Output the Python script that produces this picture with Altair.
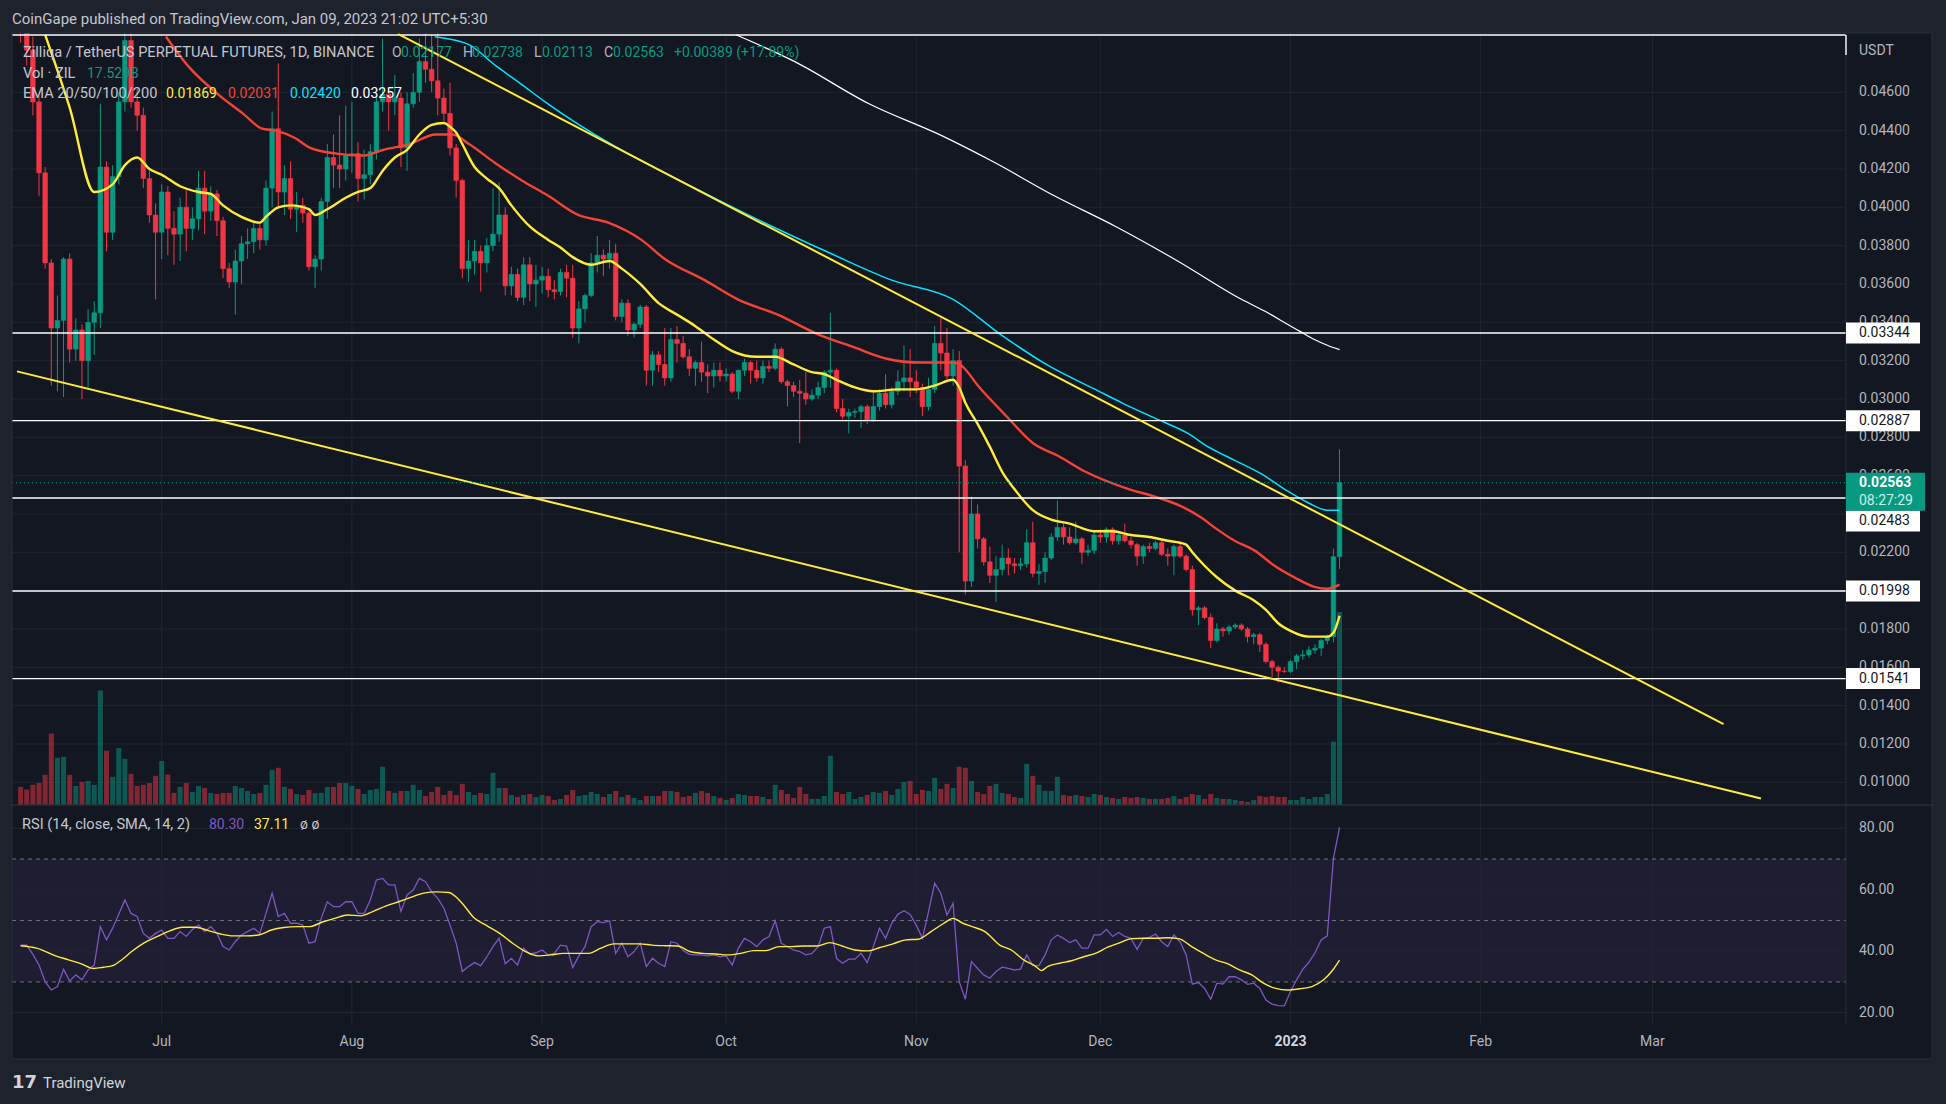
import altair as alt
import numpy as np
import pandas as pd

FIRST_DAY = "2022-06-08"

# ---------------- daily candles (ZIL/USDT perpetual, 1D) ----------------
jun_o = [0.0505,0.0492,0.0482,0.0455,0.0418,0.0371,0.0337,0.0341,0.0373,0.0326,0.0336,0.0320,0.0340,0.0345,0.0421,0.0387,0.0416,0.0455,0.0487,0.0455,0.0448,0.0415,0.0396]
jun_h = [0.0512,0.0499,0.0489,0.0458,0.0421,0.0373,0.0354,0.0374,0.0376,0.0342,0.0339,0.0347,0.0351,0.0454,0.0424,0.0422,0.0460,0.0495,0.0496,0.0462,0.0452,0.0419,0.0402]
jun_l = [0.0486,0.0474,0.0448,0.0406,0.0368,0.0307,0.0304,0.0301,0.0319,0.0320,0.0300,0.0306,0.0323,0.0337,0.0377,0.0383,0.0412,0.0450,0.0452,0.0440,0.0410,0.0392,0.0352]
jun_c = [0.0492,0.0482,0.0455,0.0418,0.0371,0.0337,0.0341,0.0373,0.0326,0.0336,0.0320,0.0340,0.0345,0.0421,0.0387,0.0416,0.0455,0.0487,0.0455,0.0448,0.0415,0.0396,0.0387]

jul_o = [0.0387,0.0408,0.0389,0.0386,0.0400,0.0389,0.0394,0.0410,0.0398,0.0407,0.0393,0.0368,0.0361,0.0372,0.0381,0.0382,0.0389,0.0383,0.0410,0.0441,0.0408,0.0415,0.0399,0.0401,0.0397,0.0369,0.0373,0.0403,0.0426,0.0422,0.0420]
jul_h = [0.0412,0.0411,0.0398,0.0405,0.0410,0.0400,0.0419,0.0419,0.0411,0.0409,0.0395,0.0371,0.0378,0.0385,0.0389,0.0393,0.0392,0.0414,0.0450,0.0475,0.0422,0.0424,0.0408,0.0405,0.0399,0.0375,0.0405,0.0433,0.0438,0.0448,0.0453]
jul_l = [0.0373,0.0375,0.0370,0.0372,0.0377,0.0383,0.0388,0.0386,0.0393,0.0385,0.0363,0.0358,0.0344,0.0360,0.0373,0.0376,0.0378,0.0380,0.0400,0.0399,0.0396,0.0394,0.0387,0.0392,0.0367,0.0358,0.0367,0.0394,0.0410,0.0410,0.0414]
jul_c = [0.0408,0.0389,0.0386,0.0400,0.0389,0.0394,0.0410,0.0398,0.0407,0.0393,0.0368,0.0361,0.0372,0.0381,0.0382,0.0389,0.0383,0.0410,0.0441,0.0408,0.0415,0.0399,0.0401,0.0397,0.0369,0.0373,0.0403,0.0426,0.0422,0.0420,0.0427]

aug_o = [0.0427,0.0428,0.0415,0.0417,0.0429,0.0455,0.0459,0.0455,0.0457,0.0431,0.0454,0.0460,0.0476,0.0472,0.0466,0.0457,0.0449,0.0431,0.0414,0.0368,0.0372,0.0377,0.0371,0.0380,0.0386,0.0396,0.0359,0.0365,0.0353,0.0370,0.0360]
aug_h = [0.0455,0.0434,0.0430,0.0433,0.0458,0.0488,0.0462,0.0469,0.0460,0.0460,0.0470,0.0488,0.0492,0.0490,0.0492,0.0462,0.0465,0.0433,0.0415,0.0383,0.0383,0.0380,0.0384,0.0410,0.0413,0.0400,0.0369,0.0368,0.0374,0.0374,0.0370]
aug_l = [0.0418,0.0403,0.0404,0.0412,0.0425,0.0450,0.0440,0.0448,0.0421,0.0419,0.0452,0.0455,0.0465,0.0460,0.0448,0.0445,0.0427,0.0405,0.0363,0.0361,0.0365,0.0356,0.0366,0.0377,0.0382,0.0354,0.0354,0.0351,0.0349,0.0351,0.0348]
aug_c = [0.0428,0.0415,0.0417,0.0429,0.0455,0.0459,0.0455,0.0457,0.0431,0.0454,0.0460,0.0476,0.0472,0.0466,0.0457,0.0449,0.0431,0.0414,0.0368,0.0372,0.0377,0.0371,0.0380,0.0386,0.0396,0.0359,0.0365,0.0353,0.0370,0.0360,0.0362]

sep_o = [0.0362,0.0364,0.0357,0.0356,0.0366,0.0363,0.0337,0.0347,0.0354,0.0371,0.0375,0.0373,0.0376,0.0343,0.0350,0.0336,0.0339,0.0348,0.0315,0.0323,0.0318,0.0311,0.0331,0.0329,0.0322,0.0316,0.0319,0.0314,0.0312,0.0315]
sep_h = [0.0369,0.0368,0.0362,0.0368,0.0370,0.0370,0.0351,0.0355,0.0376,0.0385,0.0378,0.0383,0.0381,0.0352,0.0352,0.0340,0.0349,0.0349,0.0325,0.0325,0.0337,0.0337,0.0338,0.0333,0.0326,0.0320,0.0330,0.0318,0.0319,0.0319]
sep_l = [0.0355,0.0353,0.0352,0.0354,0.0353,0.0332,0.0329,0.0340,0.0353,0.0366,0.0364,0.0368,0.0341,0.0340,0.0333,0.0332,0.0337,0.0307,0.0307,0.0314,0.0307,0.0309,0.0319,0.0321,0.0312,0.0307,0.0309,0.0303,0.0306,0.0309]
sep_c = [0.0364,0.0357,0.0356,0.0366,0.0363,0.0337,0.0347,0.0354,0.0371,0.0375,0.0373,0.0376,0.0343,0.0350,0.0336,0.0339,0.0348,0.0315,0.0323,0.0318,0.0311,0.0331,0.0329,0.0322,0.0316,0.0319,0.0314,0.0312,0.0315,0.0312]

oct_o = [0.0312,0.0313,0.0304,0.0315,0.0319,0.0315,0.0311,0.0317,0.0316,0.0326,0.0309,0.0307,0.0304,0.0303,0.0300,0.0302,0.0306,0.0314,0.0315,0.0295,0.0291,0.0293,0.02935,0.0296,0.0289,0.0296,0.0303,0.0297,0.0304,0.0309,0.0311]
oct_h = [0.0316,0.0314,0.0315,0.0321,0.0320,0.0320,0.0320,0.0320,0.0329,0.0327,0.0310,0.0309,0.0310,0.0314,0.0305,0.0309,0.0315,0.0345,0.0316,0.0300,0.0295,0.0295,0.0297,0.0297,0.0304,0.0305,0.0313,0.0306,0.0315,0.0328,0.0326]
oct_l = [0.0309,0.0303,0.0300,0.0312,0.0308,0.0309,0.0308,0.0314,0.0315,0.0308,0.0296,0.0301,0.0277,0.0297,0.0299,0.0300,0.0303,0.0306,0.0293,0.0288,0.0282,0.0290,0.0285,0.0287,0.0288,0.0294,0.0295,0.0295,0.0302,0.0304,0.0301]
oct_c = [0.0313,0.0304,0.0315,0.0319,0.0315,0.0311,0.0317,0.0316,0.0326,0.0309,0.0307,0.0304,0.0303,0.0300,0.0302,0.0306,0.0314,0.0315,0.0295,0.0291,0.0293,0.02935,0.0296,0.0289,0.0296,0.0303,0.0297,0.0304,0.0309,0.0311,0.0309]

nov_o = [0.0309,0.0306,0.0296,0.0305,0.0329,0.0324,0.0312,0.0320,0.0265,0.0205,0.0240,0.0227,0.0215,0.0208,0.0211,0.0217,0.0214,0.0213,0.0214,0.0225,0.0209,0.0210,0.0217,0.0228,0.0233,0.0228,0.0225,0.0227,0.0220,0.0221]
nov_h = [0.0315,0.0308,0.0311,0.0338,0.0342,0.0337,0.0326,0.0325,0.0268,0.0249,0.0245,0.0228,0.0223,0.0218,0.0224,0.0222,0.0217,0.0217,0.0232,0.0236,0.0214,0.0220,0.0230,0.0247,0.0235,0.0233,0.0236,0.0228,0.0224,0.0231]
nov_l = [0.0303,0.0291,0.0294,0.0303,0.0315,0.0310,0.0307,0.0220,0.0198,0.0202,0.0222,0.0213,0.0204,0.0194,0.0208,0.0208,0.0209,0.0211,0.0212,0.0207,0.0203,0.0204,0.0216,0.0226,0.0224,0.0224,0.0224,0.0214,0.0218,0.0219]
nov_c = [0.0306,0.0296,0.0305,0.0329,0.0324,0.0312,0.0320,0.0265,0.0205,0.0240,0.0227,0.0215,0.0208,0.0211,0.0217,0.0214,0.0213,0.0214,0.0225,0.0209,0.0210,0.0217,0.0228,0.0233,0.0228,0.0225,0.0227,0.0220,0.0221,0.0229]

dec_o = [0.0229,0.0228,0.0232,0.0226,0.0229,0.0226,0.0224,0.0218,0.0223,0.0222,0.0225,0.0219,0.0218,0.0223,0.0218,0.0211,0.0190,0.0191,0.0186,0.0174,0.0180,0.0179,0.0181,0.0182,0.0180,0.0176,0.0177,0.0172,0.0163,0.0160,0.0158]
dec_h = [0.0232,0.0233,0.0233,0.0230,0.0235,0.0228,0.0225,0.0224,0.0225,0.0226,0.0226,0.0222,0.0224,0.0225,0.0219,0.0213,0.0192,0.0192,0.0188,0.0183,0.0181,0.0182,0.0183,0.0183,0.0181,0.0178,0.0178,0.0173,0.0164,0.0161,0.0160]
dec_l = [0.0225,0.0225,0.0224,0.0224,0.0225,0.0222,0.0213,0.0214,0.0220,0.0221,0.0218,0.0213,0.0208,0.0217,0.0210,0.0187,0.0182,0.0185,0.0170,0.0173,0.0176,0.0177,0.0180,0.0179,0.0173,0.0172,0.0168,0.0162,0.0155,0.0152,0.0157]
dec_c = [0.0228,0.0232,0.0226,0.0229,0.0226,0.0224,0.0218,0.0223,0.0222,0.0225,0.0219,0.0218,0.0223,0.0218,0.0211,0.0190,0.0191,0.0186,0.0174,0.0180,0.0179,0.0181,0.0182,0.0180,0.0176,0.0177,0.0172,0.0163,0.0160,0.0158,0.01578]

jan_o = [0.01578,0.0163,0.0166,0.01665,0.0169,0.0170,0.0174,0.0176,0.02177]
jan_h = [0.0164,0.0167,0.0169,0.0171,0.0172,0.0175,0.0177,0.0222,0.02738]
jan_l = [0.0157,0.0159,0.0164,0.0165,0.0167,0.0166,0.0172,0.0173,0.02113]
jan_c = [0.0163,0.0166,0.01665,0.0169,0.0170,0.0174,0.0176,0.02177,0.02563]

# ---------------- volume (billions of ZIL) ----------------
vol_jun = [1.64,1.40,1.83,2.0,2.74,6.48,4.29,4.38,2.74,1.73,2.1,2.19,1.83,10.4,4.93,2.56,5.17,4.2,2.83,1.73,1.83,2.0,2.65]
vol_jul = [4.0,2.77,1.1,1.64,2.0,1.19,1.73,1.55,1.1,1.0,1.1,1.1,1.73,1.55,1.28,1.0,1.1,1.83,3.2,3.38,1.64,1.46,1.0,0.91,1.37,1.07,1.1,1.64,1.64,2.0,2.0]
vol_aug = [1.73,1.46,1.0,1.37,1.46,3.47,1.28,1.1,1.28,1.28,1.83,1.37,0.82,1.19,1.64,0.91,1.28,0.91,1.92,1.19,0.91,1.1,1.0,2.92,1.55,1.55,0.91,0.73,0.91,1.0,0.73]
vol_sep = [0.91,0.82,0.46,0.55,0.91,1.37,0.82,0.91,1.19,1.0,0.73,1.0,1.28,0.73,0.91,0.64,0.46,0.82,0.82,0.82,1.28,1.28,1.19,0.73,0.82,1.1,1.28,1.1,0.82,0.64]
vol_oct = [0.46,0.64,1.0,0.91,0.82,0.82,0.73,0.55,1.83,1.37,1.0,0.64,1.64,1.0,0.55,0.55,0.82,4.47,1.19,1.0,1.19,0.55,0.73,0.91,1.19,1.1,1.28,0.91,1.46,2.1,2.19]
vol_nov = [1.0,1.37,1.28,2.46,1.46,1.92,1.55,3.47,3.38,2.19,1.19,1.0,1.73,1.92,1.1,1.0,0.73,0.64,3.74,2.65,1.83,1.28,1.28,2.56,0.91,0.82,0.91,0.82,0.73,1.0]
vol_dec = [0.91,0.73,0.64,0.55,0.73,0.64,0.73,0.64,0.55,0.55,0.55,0.64,0.82,0.55,0.73,1.0,0.91,0.55,1.0,0.64,0.55,0.55,0.46,0.37,0.27,0.46,0.82,0.73,0.82,0.73,0.73]
vol_jan = [0.46,0.46,0.73,0.55,0.73,0.73,1.0,5.75,17.529]

# ---------------- RSI(14) per day ----------------
rsi_jun = [42.0,42.0,39.0,35.5,30.1,27.4,28.5,34.1,30.3,32.3,30.7,33.9,35.5,48.0,43.7,47.5,52.0,56.7,52.3,51.3,45.8,44.2,45.8]
rsi_jul = [46.9,44.2,44.2,46.4,44.8,47.1,48.5,46.4,48.0,45.8,41.5,40.4,43.1,45.3,46.4,47.5,45.8,52.3,58.9,51.3,52.3,49.1,49.1,48.5,42.6,43.1,50.7,56.1,54.5,54.5,56.1]
rsi_aug = [56.1,52.3,52.3,56.7,63.2,63.7,61.6,61.6,52.9,58.3,59.9,63.7,62.6,59.4,57.2,54.0,48.5,42.6,33.4,35.0,36.3,35.3,38.2,41.5,44.2,35.9,37.7,35.5,41.0,39.1,39.5]
rsi_sep = [40.4,38.8,39.3,42.0,41.7,34.7,38.5,41.5,48.0,49.6,49.3,49.9,39.3,42.6,38.2,39.9,42.6,35.0,37.7,36.1,35.0,43.1,42.6,40.2,39.0,38.8,38.8,38.5,38.8,38.2]
rsi_oct = [38.5,35.5,41.0,44.2,43.1,41.5,43.7,44.8,49.9,42.6,41.5,40.4,39.9,38.8,39.3,41.5,47.5,48.0,37.7,36.1,37.4,37.4,39.3,36.3,41.5,47.5,44.2,49.1,52.0,53.2,52.0]
rsi_nov = [48.5,44.2,52.9,62.1,58.9,51.8,55.6,30.1,24.4,36.6,34.4,32.3,31.2,33.4,34.8,34.4,33.9,34.2,38.8,35.3,35.3,38.8,43.7,45.3,44.2,42.8,43.7,41.0,41.0,45.3]
rsi_dec = [45.3,47.1,44.8,46.1,44.8,44.2,40.6,44.2,44.5,45.6,43.1,41.5,45.3,43.1,38.8,29.3,29.8,27.9,24.4,29.6,29.3,31.7,31.7,30.7,29.2,29.6,27.9,24.1,22.8,22.3,22.2]
rsi_jan = [26.9,30.7,34.1,36.4,39.5,43.7,45.0,70.2,80.3]

# RSI-based SMA(14) samples (day index from FIRST_DAY, value)
rsi_ma_day = [0,2.6,5.7,7.8,9.9,11.9,13.5,15,16.6,18.1,20.2,22.3,24.3,26.4,28.5,30.6,32.6,34.7,36.8,38.8,
              40.9,42.9,45,47.1,49.2,51.2,53.3,55.4,57.4,59.5,61.6,63.6,65.7,67.8,69.8,70.9,71.9,74,76.1,78.1,
              80.2,82.3,84.3,86.4,88.4,90.5,92.6,94.6,96.7,98.8,100.9,102.9,105,107.1,109.1,111.2,113.3,115.3,117.4,119.5,
              121.5,123.6,125.7,127.7,129.8,131.9,133.9,136,138.1,140.1,142.2,144.3,146.3,148.4,150.5,152,153.6,155.1,157.2,159.6,
              161.5,163.5,165.5,166.4,167.4,169.4,171.3,173.3,175.2,177.2,179.2,181.1,183.1,185,187,188.9,190.9,192.8,194.8,196.8,
              198.7,200.7,202.6,204.6,206.5,208.5,210.5,212.4,213.9,215]
rsi_ma_val = [41.8,41.0,38.5,37.2,35.9,34.4,34.8,35.3,37.4,39.9,42.8,44.8,46.6,47.8,47.8,46.7,45.6,45.0,45.0,45.3,
              46.9,47.7,48.0,48.0,49.5,50.7,51.8,51.5,52.9,54.7,56.1,57.5,58.9,59.3,59.1,57.8,55.8,50.7,48.2,45.8,
              42.6,39.9,38.5,38.8,39.3,39.3,39.3,41.0,42.4,42.4,42.4,42.0,41.8,41.7,39.9,39.3,39.1,38.8,39.3,40.2,
              40.2,41.5,41.5,41.7,41.7,42.8,41.7,40.4,40.1,41.2,42.4,43.7,43.9,46.4,49.1,50.7,49.1,48.0,46.4,42.0,
              40.4,37.2,35.0,33.7,35.0,36.1,36.9,38.2,39.3,41.3,42.8,44.1,44.2,44.2,44.4,44.0,41.5,39.3,37.2,35.9,
              33.9,32.3,29.6,27.9,27.4,27.8,28.5,30.7,33.9,37.1]

# ---------------- EMA 20/50/100/200 samples (day index, price) ----------------
ema20_day = [4,8,12,15,17,19,21,23,26,29,31,33,36,39,40,42,44,47,48,50,53,55,57,59,61,63,65,67,69,70,71,72,74,76,78,80,83,86,88,90,
             93,96,98,101,104,107,110,113,116,120,123,126,129,131,133,136,139,143,146,149,152,153,154,156,158,160,162,165,168,171,
             175,178,181,184,187,189,190,191,193,195,198,201,203,205,207,210,213,214,215]
ema20_val = [0.0490,0.0452,0.0408,0.0412,0.0422,0.0426,0.0420,0.0417,0.0411,0.0408,0.0407,0.0401,0.0395,0.0392,0.0395,0.0400,0.0401,0.0399,0.0396,0.0399,
             0.0405,0.0408,0.0410,0.0419,0.0426,0.0430,0.0438,0.0443,0.0444,0.0442,0.0439,0.0433,0.0421,0.0415,0.0410,0.0401,0.0390,0.0383,0.0379,0.0374,
             0.0370,0.0372,0.0368,0.0360,0.0350,0.0344,0.0338,0.0331,0.0325,0.0322,0.0322,0.0318,0.0314,0.0313,0.0310,0.0306,0.0304,0.0305,0.0305,0.0307,
             0.0310,0.0306,0.0298,0.0287,0.0275,0.0262,0.0253,0.0242,0.0237,0.0235,0.0231,0.0231,0.0229,0.0228,0.0226,0.0225,0.0224,0.0220,0.0213,0.0207,
             0.0200,0.0195,0.0190,0.0183,0.0179,0.0176,0.0176,0.0178,0.01869]
ema50_day = [23.7,27.5,31.8,36.2,39.4,41.6,44.8,47.2,51.5,55.8,59.1,63.4,67.7,70.4,73.1,77.4,81.7,86.0,90.9,95.8,
             101.2,105,111.5,116.9,123.4,129.8,135.8,141.2,146.6,152,153.1,156.3,160.7,165,169.3,173.6,180.6,184.9,189.2,192.5,
             194.6,197.9,201.1,204.4,207.6,210.9,213,215]
ema50_val = [0.0489,0.0473,0.0460,0.0449,0.0441,0.0440,0.0436,0.0431,0.0428,0.0427,0.0430,0.0433,0.0438,0.0438,0.0433,0.0423,0.0414,0.0406,0.0396,0.0392,
             0.0383,0.0373,0.0362,0.0352,0.0344,0.0334,0.0327,0.0321,0.0319,0.0319,0.0318,0.0306,0.0291,0.0277,0.0270,0.0262,0.0253,0.0249,0.0244,0.0238,
             0.0233,0.0226,0.0221,0.0213,0.0207,0.0202,0.0201,0.02031]
ema100_day = [67.5,73,77.4,81.7,85.5,88.2,113.6,132,142,152,159.6,167.2,175.8,179.5,184.9,190.3,193.6,197.9,202.2,206.5,209.8,213,215]
ema100_val = [0.0489,0.0485,0.0474,0.0464,0.0455,0.0449,0.0404,0.0376,0.0362,0.0352,0.0334,0.0318,0.0304,0.0298,0.0290,0.0282,0.0275,0.0268,0.0261,0.0252,0.0246,0.0242,0.02420]
ema200_day = [116.6,126.2,138.3,150.4,158.4,168.5,178.5,188.6,199,203.3,206.5,208.7,210.9,213,215]
ema200_val = [0.0490,0.0476,0.0454,0.0437,0.0424,0.0406,0.0390,0.0372,0.0352,0.0345,0.0339,0.0335,0.0331,0.0328,0.03257]

# ---------------- drawings ----------------
wedge_upper_day = [61.5, 277.6]
wedge_upper_val = [0.04905, 0.01303]
wedge_lower_day = [-0.59, 283.7]
wedge_lower_val = [0.03144, 0.00916]
level_prices = [0.03344, 0.02887, 0.01998, 0.01541]
level_texts = ["0.03344", "0.02887", "0.01998", "0.01541"]
shifted_level = [0.02483]
shifted_text = ["0.02483"]
top_level = [0.04899]
last_price = [0.02563]

price_ticks = [0.046, 0.044, 0.042, 0.040, 0.038, 0.036, 0.034, 0.032, 0.030, 0.028,
               0.026, 0.024, 0.022, 0.020, 0.018, 0.016, 0.014, 0.012, 0.010]
# tick labels that are not hidden behind the level boxes
price_tick_labels = [0.046, 0.044, 0.042, 0.040, 0.038, 0.036, 0.034, 0.032, 0.030, 0.028,
                     0.026, 0.022, 0.018, 0.016, 0.014, 0.012, 0.010]
rsi_ticks = [80, 60, 40, 20]
rsi_dashes = [70, 50, 30]
month_starts = ["2022-07-01", "2022-08-01", "2022-09-01", "2022-10-01", "2022-11-01",
                "2022-12-01", "2023-01-01", "2023-02-01", "2023-03-01"]
month_names = ["Jul", "Aug", "Sep", "Oct", "Nov", "Dec", "2023", "Feb", "Mar"]

# ---------------- assemble tables ----------------
opens = jun_o + jul_o + aug_o + sep_o + oct_o + nov_o + dec_o + jan_o
highs = jun_h + jul_h + aug_h + sep_h + oct_h + nov_h + dec_h + jan_h
lows = jun_l + jul_l + aug_l + sep_l + oct_l + nov_l + dec_l + jan_l
closes = jun_c + jul_c + aug_c + sep_c + oct_c + nov_c + dec_c + jan_c
vols = vol_jun + vol_jul + vol_aug + vol_sep + vol_oct + vol_nov + vol_dec + vol_jan
rsis = rsi_jun + rsi_jul + rsi_aug + rsi_sep + rsi_oct + rsi_nov + rsi_dec + rsi_jan
n = min(len(opens), len(highs), len(lows), len(closes), len(vols))
cd = pd.DataFrame({"d": np.arange(n), "o": opens[:n], "h": highs[:n], "l": lows[:n],
                   "c": closes[:n], "v": vols[:n]})
cd["dir"] = np.where(cd["c"] >= cd["o"], "up", "down")
rsi_df = pd.DataFrame({"d": np.arange(len(rsis)), "r": rsis})
m = min(len(rsi_ma_day), len(rsi_ma_val))
rsi_ma_df = pd.DataFrame({"d": rsi_ma_day[:m], "r": rsi_ma_val[:m]})
t0 = pd.Timestamp(FIRST_DAY)
month_days = [(pd.Timestamp(s) - t0).days for s in month_starts]
mdf = pd.DataFrame({"d": month_days, "name": month_names})

# ---------------- style / layout ----------------
BG_OUT = "#1e222d"
BG_PANE = "#131722"
GRID = "#22252f"
BORDER = "#2a2e39"
TXT = "#b2b5be"
UP = "#089981"
DN = "#f23645"
FONT = "Roboto"
W, H = 1946, 1104
L, R = 12, 1846
MT, MB = 33, 805
RT, RB = 805, 1024
AB, AR = 1059, 1932

xs = alt.Scale(domain=[-0.5885, 296.74], range=[L, R], nice=False, zero=False)
ps = alt.Scale(domain=[0.008816, 0.049094], range=[MB, MT], nice=False, zero=False)
vs = alt.Scale(domain=[0, 70.1], range=[MB, MT], nice=False, zero=False)
rs = alt.Scale(domain=[16.32, 87.58], range=[RB, RT], nice=False, zero=False)
dir_scale = alt.Scale(domain=["up", "down"], range=[UP, DN])
ONE = pd.DataFrame({"k": [0]})
X = alt.X("d:Q", scale=xs, axis=None)


def box(x1, x2, y1, y2, color, opacity=1.0):
    return alt.Chart(ONE).mark_rect(color=color, opacity=opacity).encode(
        x=alt.value(x1), x2=alt.value(x2), y=alt.value(y1), y2=alt.value(y2))


def seg(x1, x2, y1, y2, color, width=1.0):
    return alt.Chart(ONE).mark_rule(color=color, strokeWidth=width).encode(
        x=alt.value(x1), x2=alt.value(x2), y=alt.value(y1), y2=alt.value(y2))


def label(s, x, y, color=TXT, size=14, align="left", weight="normal", font=FONT):
    return alt.Chart(pd.DataFrame({"t": [s]})).mark_text(
        align=align, baseline="middle", color=color, fontSize=size, fontWeight=weight, font=font
    ).encode(text="t:N", x=alt.value(x), y=alt.value(y))


def curve(days, vals, color, width, scale, interp="monotone"):
    k = min(len(days), len(vals))
    df = pd.DataFrame({"d": days[:k], "v": vals[:k]})
    return alt.Chart(df).mark_line(color=color, strokeWidth=width, interpolate=interp).encode(
        x=X, y=alt.Y("v:Q", scale=scale, axis=None))


def hlines(vals, scale, color, width=1.0, dash=None, x1=L, x2=R, opacity=1.0):
    kw = dict(color=color, strokeWidth=width, opacity=opacity)
    if dash:
        kw["strokeDash"] = dash
    return alt.Chart(pd.DataFrame({"p": vals})).mark_rule(**kw).encode(
        y=alt.Y("p:Q", scale=scale, axis=None), x=alt.value(x1), x2=alt.value(x2))


layers = []
layers.append(box(L, AR, MT, AB, BG_PANE))
# RSI band
layers.append(alt.Chart(pd.DataFrame({"a": [70], "b": [30]})).mark_rect(color="#7e57c2", opacity=0.1).encode(
    y=alt.Y("a:Q", scale=rs, axis=None), y2="b:Q", x=alt.value(L), x2=alt.value(R)))
layers.append(hlines(price_ticks, ps, GRID))
layers.append(hlines(rsi_ticks, rs, GRID))
layers.append(alt.Chart(mdf).mark_rule(color=GRID).encode(x=X, y=alt.value(MT), y2=alt.value(RB)))
layers.append(hlines(rsi_dashes, rs, "#787b86", 1, dash=[4, 4], opacity=0.9))

# volume
layers.append(alt.Chart(cd).mark_bar(size=5, opacity=0.5).encode(
    x=X, y=alt.Y("v:Q", scale=vs, axis=None), y2=alt.datum(0),
    color=alt.Color("dir:N", scale=dir_scale, legend=None)))
# candles
layers.append(alt.Chart(cd).mark_rule(strokeWidth=1).encode(
    x=X, y=alt.Y("l:Q", scale=ps, axis=None), y2="h:Q",
    color=alt.Color("dir:N", scale=dir_scale, legend=None)))
layers.append(alt.Chart(cd).mark_bar(size=4.6, strokeWidth=0.6).encode(
    x=X, y=alt.Y("o:Q", scale=ps, axis=None), y2="c:Q",
    color=alt.Color("dir:N", scale=dir_scale, legend=None),
    stroke=alt.Stroke("dir:N", scale=dir_scale, legend=None)))

# EMAs
layers.append(curve(ema200_day, ema200_val, "#ffffff", 1.2, ps))
layers.append(curve(ema100_day, ema100_val, "#00e5ff", 1.5, ps))
layers.append(curve(ema50_day, ema50_val, "#f44336", 2.4, ps))
layers.append(curve(ema20_day, ema20_val, "#ffeb3b", 2.4, ps))

# horizontal levels and wedge
layers.append(hlines(level_prices + shifted_level + top_level, ps, "#ffffff", 1.4))
layers.append(curve(wedge_upper_day, wedge_upper_val, "#ffeb3b", 2, ps, "linear"))
layers.append(curve(wedge_lower_day, wedge_lower_val, "#ffeb3b", 2, ps, "linear"))
layers.append(hlines(last_price, ps, UP, 1, dash=[1, 3]))

# RSI
layers.append(alt.Chart(rsi_df).mark_line(color="#7e57c2", strokeWidth=1.3).encode(
    x=X, y=alt.Y("r:Q", scale=rs, axis=None)))
layers.append(alt.Chart(rsi_ma_df).mark_line(color="#ffeb3b", strokeWidth=1.4, interpolate="monotone").encode(
    x=X, y=alt.Y("r:Q", scale=rs, axis=None)))

# covers & frame
layers.append(box(0, W, 0, MT, BG_OUT))
layers.append(box(R, AR, MT, AB, BG_PANE))
layers.append(seg(L, AR, MT, MT, BORDER))
layers.append(seg(L, AR, AB, AB, BORDER))
layers.append(seg(L, L, MT, AB, BORDER))
layers.append(seg(AR, AR, MT, AB, BORDER))
layers.append(seg(L, AR, RT, RT, BORDER, 1.5))
layers.append(seg(R, R, MT, RB, BORDER))

# right price axis
layers.append(alt.Chart(pd.DataFrame({"p": price_tick_labels})).mark_text(
    align="left", baseline="middle", color=TXT, fontSize=14, font=FONT).encode(
    y=alt.Y("p:Q", scale=ps, axis=None), x=alt.value(1859), text=alt.Text("p:Q", format=".5f")))
layers.append(alt.Chart(pd.DataFrame({"r": rsi_ticks})).mark_text(
    align="left", baseline="middle", color=TXT, fontSize=14, font=FONT).encode(
    y=alt.Y("r:Q", scale=rs, axis=None), x=alt.value(1859), text=alt.Text("r:Q", format=".2f")))
layers.append(label("USDT", 1859, 51))

# level label boxes
lv = pd.DataFrame({"p": level_prices, "t": level_texts})
layers.append(alt.Chart(lv).mark_rule(color="#ffffff", strokeWidth=21).encode(
    y=alt.Y("p:Q", scale=ps, axis=None), x=alt.value(R), x2=alt.value(1920)))
layers.append(alt.Chart(lv).mark_text(align="left", baseline="middle", color=BG_PANE, fontSize=14, font=FONT).encode(
    y=alt.Y("p:Q", scale=ps, axis=None), x=alt.value(1859), text="t:N"))
sv = pd.DataFrame({"p": shifted_level, "t": shifted_text})
layers.append(alt.Chart(sv).mark_rule(color="#ffffff", strokeWidth=21, yOffset=23).encode(
    y=alt.Y("p:Q", scale=ps, axis=None), x=alt.value(R), x2=alt.value(1920)))
layers.append(alt.Chart(sv).mark_text(align="left", baseline="middle", color=BG_PANE, fontSize=14, font=FONT,
                                      yOffset=23).encode(
    y=alt.Y("p:Q", scale=ps, axis=None), x=alt.value(1859), text="t:N"))
lp = pd.DataFrame({"p": last_price})
layers.append(alt.Chart(lp).mark_rule(color=UP, strokeWidth=38, yOffset=9).encode(
    y=alt.Y("p:Q", scale=ps, axis=None), x=alt.value(R), x2=alt.value(1925)))
layers.append(alt.Chart(lp).mark_text(align="left", baseline="middle", color="#ffffff", fontSize=14,
                                      font=FONT, fontWeight="bold").encode(
    y=alt.Y("p:Q", scale=ps, axis=None), x=alt.value(1859), text=alt.Text("p:Q", format=".5f")))
layers.append(label("08:27:29", 1859, 500.5, color="#cdeee8"))
layers.append(seg(R, R, 35, 55, "#ffffff", 1.4))

# time axis
layers.append(alt.Chart(mdf[mdf["name"] != "2023"]).mark_text(
    align="center", baseline="middle", color=TXT, fontSize=14, font=FONT).encode(
    x=X, y=alt.value(1042), text="name:N"))
layers.append(alt.Chart(mdf[mdf["name"] == "2023"]).mark_text(
    align="center", baseline="middle", color="#d1d4dc", fontSize=14, font=FONT, fontWeight="bold").encode(
    x=X, y=alt.value(1042), text="name:N"))

# header & legends
LS = 14.6
layers.append(label("CoinGape published on TradingView.com, Jan 09, 2023 21:02 UTC+5:30", 12, 19, "#c3c6ce", 15))
layers.append(label("Zilliqa / TetherUS PERPETUAL FUTURES, 1D, BINANCE", 23, 53, "#c3c6ce", LS))
for s, x, c in [("O", 392, TXT), ("0.02177", 401, UP), ("H", 463, TXT), ("0.02738", 472, UP),
                ("L", 534, TXT), ("0.02113", 542, UP), ("C", 604, TXT), ("0.02563", 613, UP),
                ("+0.00389 (+17.89%)", 674, UP)]:
    layers.append(label(s, x, 53, c, 14))
layers.append(label("Vol · ZIL", 23, 74, "#c3c6ce", LS))
layers.append(label("17.529B", 87, 74, "#2a8c80", 14))
layers.append(label("EMA 20/50/100/200", 23, 94, "#c3c6ce", LS))
for s, x, c in [("0.01869", 166, "#ffeb3b"), ("0.02031", 228, "#f44336"),
                ("0.02420", 290, "#00e5ff"), ("0.03257", 351, "#ffffff")]:
    layers.append(label(s, x, 94, c, 14))
layers.append(label("RSI (14, close, SMA, 14, 2)", 22, 825, "#c3c6ce", LS))
layers.append(label("80.30", 209, 825, "#7e57c2", 14))
layers.append(label("37.11", 254, 825, "#ffeb3b", 14))
layers.append(label("ø  ø", 300, 825, "#c3c6ce", 14))
layers.append(label("17", 12, 1083, "#d1d4dc", 18, weight="bold", font="DejaVu Sans"))
layers.append(label("TradingView", 43, 1083, "#d1d4dc", 15))

chart = alt.layer(*layers).resolve_scale(y="independent").properties(
    width=W, height=H, padding=0, background=BG_OUT,
    autosize=alt.AutoSizeParams(type="none"),
).configure_view(strokeWidth=0)

chart.save("out.html", embed_options={"renderer": "svg", "actions": False})
